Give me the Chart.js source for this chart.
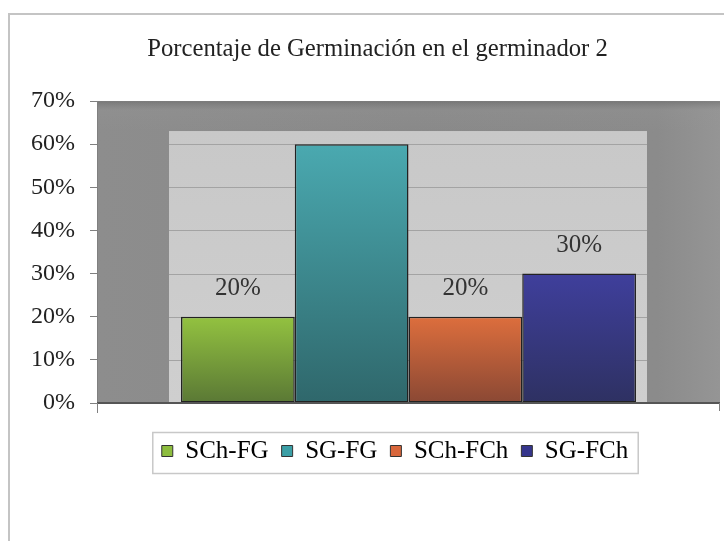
<!DOCTYPE html>
<html>
<head>
<meta charset="utf-8">
<script src="https://cdn.jsdelivr.net/npm/chart.js@4/dist/chart.umd.min.js"></script>
<style>
  html, body { margin:0; padding:0; background:#fff; }
  canvas { display:block; }
</style>
</head>
<body>
<canvas id="chart" width="724" height="541"></canvas>
<script>
'use strict';

// Datos
const categories = [''];
const seriesNames = ['SCh-FG', 'SG-FG', 'SCh-FCh', 'SG-FCh'];
const seriesValues = [0.20, 0.60, 0.20, 0.30];
const showValueLabel = [true, false, true, true];
const yTicks = [0, 0.1, 0.2, 0.3, 0.4, 0.5, 0.6, 0.7];

const topColors = ['#93c240', '#4aa9b0', '#dd6e3d', '#3f3f9c'];
const bottomColors = ['#5a7835', '#2f676b', '#8a4834', '#2e3162'];
const legendColors = ['#8dbd3e', '#3b9fa6', '#d8663b', '#35358c'];

const SERIF = '"Liberation Serif", "Times New Roman", serif';

function barFill(i) {
  return ctx => {
    const chart = ctx.chart;
    const area = chart.chartArea;
    if (!area || ctx.raw == null) return topColors[i];
    const top = chart.scales.y.getPixelForValue(ctx.raw);
    const g = chart.ctx.createLinearGradient(0, top, 0, area.bottom);
    g.addColorStop(0, topColors[i]);
    g.addColorStop(1, bottomColors[i]);
    return g;
  };
}

const backdrop = {
  id: 'backdrop',
  afterLayout(chart) {
    // el título y la leyenda no están centrados respecto al lienzo
    const t = chart.titleBlock;
    t.left = 35; t.right = 720; t.width = t.right - t.left;
    const lg = chart.legend;
    lg.left = 70; lg.right = 720; lg.width = lg.right - lg.left;
  },
  beforeDraw(chart) {
    const {ctx, chartArea: a, scales: {y}} = chart;
    ctx.save();
    // marco exterior
    ctx.strokeStyle = '#c4c4c4';
    ctx.lineWidth = 2;
    ctx.beginPath();
    ctx.moveTo(9, chart.height);
    ctx.lineTo(9, 14);
    ctx.lineTo(chart.width, 14);
    ctx.stroke();

    // fondo gris oscuro
    const dg = ctx.createLinearGradient(a.left, 0, a.right, 0);
    dg.addColorStop(0, '#8d8d8d');
    dg.addColorStop(0.5, '#898989');
    dg.addColorStop(0.9, '#8b8b8b');
    dg.addColorStop(1, '#959595');
    ctx.fillStyle = dg;
    ctx.fillRect(a.left, a.top, a.right - a.left, a.bottom - a.top);
    const band = ctx.createLinearGradient(0, a.top, 0, a.top + 30);
    band.addColorStop(0, 'rgba(80,80,80,0.35)');
    band.addColorStop(0.3, 'rgba(150,150,150,0.25)');
    band.addColorStop(1, 'rgba(150,150,150,0)');
    ctx.fillStyle = band;
    ctx.fillRect(a.left, a.top, a.right - a.left, 30);

    // rectángulo claro interior
    const first = chart.getDatasetMeta(0).data[0];
    const last = chart.getDatasetMeta(seriesValues.length - 1).data[0];
    const il = first.x - first.width / 2 - 12;
    const ir = last.x + last.width / 2 + 11;
    const it = a.top + 30;
    const lg = ctx.createLinearGradient(0, it, 0, a.bottom);
    lg.addColorStop(0, '#c8c8c8');
    lg.addColorStop(1, '#cfcfcf');
    ctx.fillStyle = lg;
    ctx.fillRect(il, it, ir - il, a.bottom - it);

    // líneas de división
    ctx.strokeStyle = '#a3a3a3';
    ctx.lineWidth = 1;
    yTicks.forEach(v => {
      const py = Math.round(y.getPixelForValue(v)) + 0.5;
      if (py <= it || v === 0) return;
      ctx.beginPath();
      ctx.moveTo(il, py);
      ctx.lineTo(ir, py);
      ctx.stroke();
    });
    ctx.restore();
  },
  afterDatasetsDraw(chart) {
    const {ctx, chartArea: a, scales: {y}} = chart;
    ctx.save();
    // eje horizontal
    ctx.strokeStyle = '#555';
    ctx.lineWidth = 2;
    ctx.beginPath();
    ctx.moveTo(a.left, a.bottom);
    ctx.lineTo(a.right, a.bottom);
    ctx.stroke();
    ctx.strokeStyle = '#808080';
    ctx.lineWidth = 1;
    ctx.beginPath();
    ctx.moveTo(a.left + 0.5, a.bottom);
    ctx.lineTo(a.left + 0.5, a.bottom + 10);
    ctx.moveTo(a.right - 0.5, a.bottom);
    ctx.lineTo(a.right - 0.5, a.bottom + 8);
    ctx.stroke();

    // etiquetas de valor
    ctx.font = '25px ' + SERIF;
    ctx.fillStyle = '#333';
    ctx.textAlign = 'center';
    ctx.textBaseline = 'middle';
    seriesValues.forEach((v, i) => {
      if (!showValueLabel[i]) return;
      const bar = chart.getDatasetMeta(i).data[0];
      ctx.fillText(Math.round(v * 100) + '%', bar.x, y.getPixelForValue(v) - 28);
    });

    // marco de la leyenda
    const boxes = chart.legend.legendHitBoxes;
    if (boxes && boxes.length) {
      const b0 = boxes[0], bn = boxes[boxes.length - 1];
      const l = b0.left - 9, r = bn.left + bn.width + 10;
      const t = b0.top - 6, btm = b0.top + b0.height + 10;
      ctx.strokeStyle = '#c8c8c8';
      ctx.lineWidth = 1.5;
      ctx.strokeRect(l, t, r - l, btm - t);
    }
    ctx.restore();
  }
};

new Chart(document.getElementById('chart'), {
  type: 'bar',
  data: {
    labels: categories,
    datasets: seriesNames.map((name, i) => ({
      label: name,
      data: [seriesValues[i]],
      backgroundColor: barFill(i),
      borderColor: '#222',
      borderWidth: 1.5,
      borderSkipped: false,
      categoryPercentage: 0.7303,
      barPercentage: 1,
    })),
  },
  options: {
    responsive: false,
    animation: false,
    layout: { padding: { left: 0, right: 4, top: 0, bottom: 67.5 } },
    plugins: {
      title: {
        display: true,
        text: 'Porcentaje de Germinación en el germinador 2',
        color: '#222',
        font: { family: SERIF, size: 24.7, weight: 'normal' },
        padding: { top: 35, bottom: 36.4 },
      },
      legend: {
        position: 'bottom',
        labels: {
          color: '#222',
          font: { family: SERIF, size: 25 },
          boxWidth: 11,
          boxHeight: 11,
          padding: 13,
          generateLabels: () => seriesNames.map((name, i) => ({
            text: name,
            fillStyle: legendColors[i],
            strokeStyle: '#333',
            lineWidth: 1,
            datasetIndex: i,
          })),
        },
      },
      tooltip: { enabled: false },
    },
    scales: {
      x: {
        ticks: { display: false },
        grid: { display: false },
        border: { display: false },
        afterFit: s => { s.height = 22.5; },
      },
      y: {
        min: 0,
        max: 0.7,
        afterFit: s => { s.width = 97; },
        afterBuildTicks: s => { s.ticks = yTicks.map(v => ({ value: v })); },
        ticks: {
          color: '#222',
          padding: 15,
          font: { family: SERIF, size: 24 },
          callback: v => Math.round(v * 100) + '%',
        },
        grid: { drawOnChartArea: false, drawTicks: true, tickLength: 7, color: '#808080' },
        border: { display: true, color: '#808080' },
      },
    },
  },
  plugins: [backdrop],
});
</script>
</body>
</html>
